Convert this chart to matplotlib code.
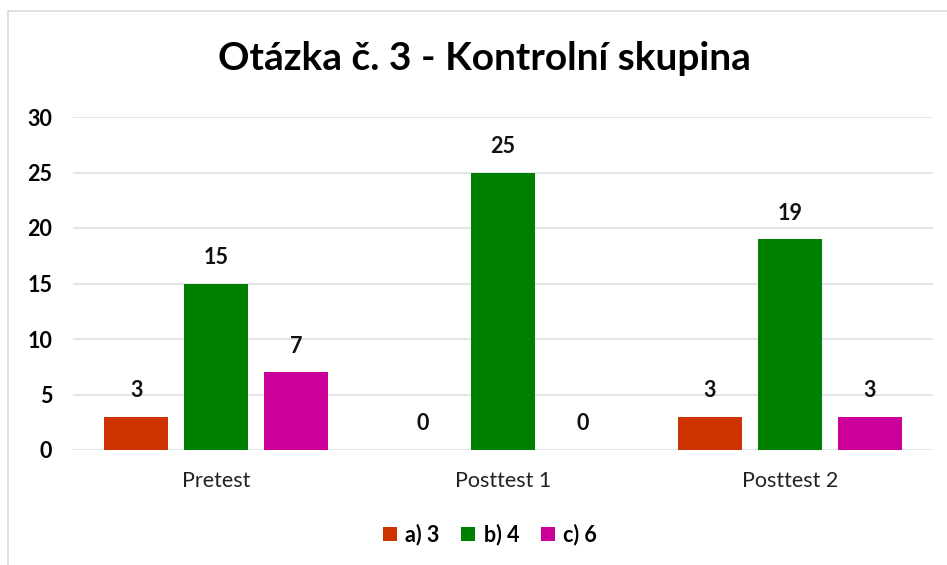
import numpy as np
import matplotlib.pyplot as plt
from matplotlib.patches import Rectangle

categories = ['Pretest', 'Posttest 1', 'Posttest 2']
series_names = ['a) 3', 'b) 4', 'c) 6']
values_a = [3, 0, 3]
values_b = [15, 25, 19]
values_c = [7, 0, 3]
colors = ['#CC3300', '#008000', '#CC0099']

plt.rcParams['font.family'] = ['Lato', 'DejaVu Sans']

fig = plt.figure(figsize=(9.47, 5.65), dpi=100)
# chart frame like in Excel
fig.patches.append(Rectangle((8 / 947, -0.01), 1.0, 1 - 11 / 565 + 0.01,
                             transform=fig.transFigure, fill=False,
                             edgecolor='#D9DCE1', linewidth=1.2))

ax = fig.add_axes([73 / 947, 1 - 450 / 565, 860 / 947, (450 - 117) / 565])

x = np.arange(len(categories))
width = 0.223
offset = 0.279
for i, (vals, name) in enumerate(zip([values_a, values_b, values_c], series_names)):
    pos = x + (i - 1) * offset
    ax.bar(pos, vals, width, color=colors[i], label=name, zorder=3)
    for p, v in zip(pos, vals):
        ax.text(p, v + 1.4, str(v), ha='center', va='bottom',
                fontsize=15.5, fontweight='bold', color='#111111')

ax.set_xlim(-0.5, 2.5)
ax.set_ylim(0, 30)
ax.set_yticks(range(0, 31, 5))
ax.set_xticks(x)
ax.set_xticklabels(categories, fontsize=15.5, color='#222222')
ax.yaxis.grid(True, color='#DDE1E6', linewidth=1.2, zorder=0)
ax.tick_params(axis='y', length=0, pad=15, labelsize=15.5)
ax.tick_params(axis='x', length=0, pad=15)
for lab in ax.get_yticklabels():
    lab.set_fontweight('bold')
for s in ax.spines.values():
    s.set_visible(False)

fig.suptitle('Otázka č. 3 - Kontrolní skupina', fontsize=28, fontweight='bold',
             x=484 / 947, y=1 - 58 / 565, va='center')

leg = fig.legend(loc='center', bbox_to_anchor=(490 / 947, 1 - 535 / 565), ncol=3,
                 frameon=False, prop={'weight': 'bold', 'size': 15.5},
                 handlelength=0.65, handleheight=0.65, handletextpad=0.4, columnspacing=1.0)

fig.savefig('out.png', dpi=100)
